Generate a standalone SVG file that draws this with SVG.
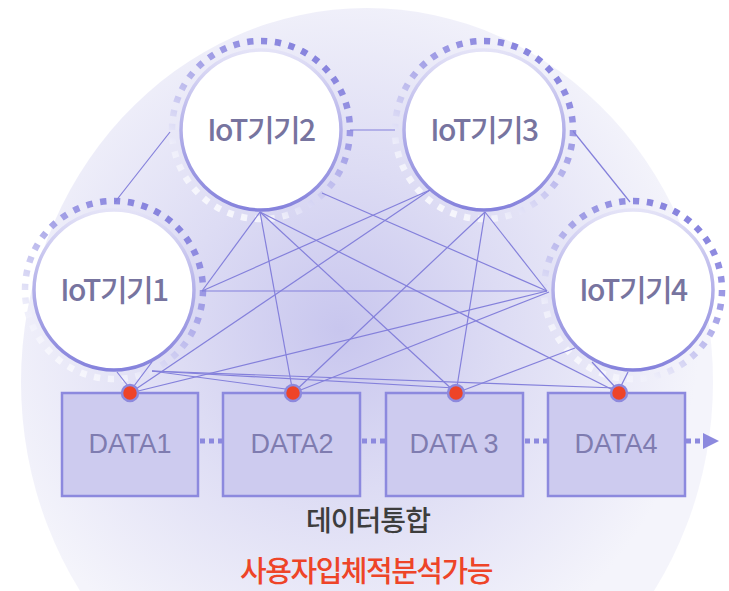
<svg xmlns="http://www.w3.org/2000/svg" width="729" height="591" viewBox="0 0 729 591">
<defs>
<radialGradient id="bg" cx="340" cy="330" r="360" gradientUnits="userSpaceOnUse">
<stop offset="0" stop-color="#c8c6ee"/>
<stop offset="0.45" stop-color="#dddcf4"/>
<stop offset="1" stop-color="#f4f4fb"/>
</radialGradient>
<linearGradient id="ring" x1="0.85" y1="0" x2="0.2" y2="1">
<stop offset="0" stop-color="#7f7bdb"/>
<stop offset="0.4" stop-color="#a6a3e7"/>
<stop offset="0.8" stop-color="#eeeefa"/>
<stop offset="1" stop-color="#fbfbfe"/>
</linearGradient>
<linearGradient id="edge" x1="0" y1="0" x2="0" y2="1">
<stop offset="0" stop-color="#e4e3f7"/>
<stop offset="0.5" stop-color="#b3b0e9"/>
<stop offset="1" stop-color="#8582dc"/>
</linearGradient>
</defs>
<style>
.ring{fill:none;stroke:url(#ring);stroke-width:6.5;stroke-dasharray:4.5 5.5}
.core{fill:#fff;stroke:url(#edge);stroke-width:3.5}
.lbl{font-family:"Noto Sans CJK KR","Noto Sans",sans-serif;font-size:30px;font-weight:500;fill:#77749f;text-anchor:middle;letter-spacing:-1.5px}
.box{fill:#cdcbef;stroke:#8c89de;stroke-width:2.5}
.dtxt{font-family:"Liberation Sans",Arial,sans-serif;font-size:27px;fill:#7f7cb0;text-anchor:middle}
.dot{fill:#ee4428;stroke:#8d89dd;stroke-width:2.5}
.ln{stroke:#8480db;stroke-width:1.2;fill:none}
.flow{stroke:#8c89de;stroke-width:5;stroke-dasharray:5 4;fill:none}
</style>
<rect width="729" height="591" fill="#ffffff"/>
<ellipse cx="367" cy="382" rx="346" ry="374" fill="url(#bg)"/>

<g id="iot1">
<circle class="ring" cx="114" cy="290" r="89" pathLength="400"/>
<circle class="core" cx="114" cy="290" r="80"/>
<text class="lbl" x="114" y="301">IoT기기1</text>
</g>
<g id="iot2">
<circle class="ring" cx="261" cy="130" r="89" pathLength="400"/>
<circle class="core" cx="261" cy="130" r="80"/>
<text class="lbl" x="261" y="141">IoT기기2</text>
</g>
<g id="iot3">
<circle class="ring" cx="484" cy="130" r="89" pathLength="400"/>
<circle class="core" cx="484" cy="130" r="80"/>
<text class="lbl" x="484" y="141">IoT기기3</text>
</g>
<g id="iot4">
<circle class="ring" cx="633" cy="290" r="89" pathLength="400"/>
<circle class="core" cx="633" cy="290" r="80"/>
<text class="lbl" x="633" y="301">IoT기기4</text>
</g>

<g id="connectors">
<line class="ln" x1="115" y1="202" x2="170" y2="132"/>
<line class="ln" x1="350" y1="130" x2="395" y2="130"/>
<line class="ln" x1="573" y1="131" x2="630" y2="202"/>
<line class="ln" x1="202" y1="291" x2="547" y2="291"/>
<line class="ln" x1="260" y1="212" x2="202" y2="291"/>
<line class="ln" x1="260" y1="212" x2="293" y2="393"/>
<line class="ln" x1="260" y1="212" x2="456" y2="393"/>
<line class="ln" x1="260" y1="212" x2="619" y2="393"/>
<line class="ln" x1="322" y1="193" x2="547" y2="291"/>
<line class="ln" x1="430" y1="190" x2="202" y2="291"/>
<line class="ln" x1="430" y1="190" x2="130" y2="393"/>
<line class="ln" x1="485" y1="212" x2="293" y2="393"/>
<line class="ln" x1="485" y1="212" x2="456" y2="393"/>
<line class="ln" x1="485" y1="212" x2="547" y2="291"/>
<line class="ln" x1="130" y1="393" x2="547" y2="291"/>
<line class="ln" x1="293" y1="393" x2="549" y2="292"/>
<line class="ln" x1="456" y1="393" x2="575" y2="348"/>
<line class="ln" x1="592" y1="362" x2="616" y2="388"/>
<line class="ln" x1="628" y1="372" x2="621" y2="386"/>
<line class="ln" x1="117" y1="372" x2="128" y2="386"/>
<line class="ln" x1="152" y1="362" x2="134" y2="386"/>
<line class="ln" x1="152" y1="371" x2="293" y2="390"/>
<line class="ln" x1="152" y1="371" x2="455" y2="388"/>
<line class="ln" x1="152" y1="371" x2="616" y2="388"/>
<line class="flow" x1="200" y1="441" x2="222" y2="441"/>
<line class="flow" x1="362" y1="441" x2="385" y2="441"/>
<line class="flow" x1="525" y1="441" x2="547" y2="441"/>
<line class="flow" x1="686" y1="441" x2="700" y2="441"/>
<polygon points="703,433 719,441 703,449" fill="#8c89de"/>
</g>

<g id="data1">
<rect class="box" x="62" y="393" width="136" height="103"/>
<text class="dtxt" x="130" y="453">DATA1</text>
<circle class="dot" cx="130" cy="393" r="8"/>
</g>
<g id="data2">
<rect class="box" x="223" y="393" width="137" height="103"/>
<text class="dtxt" x="292" y="453">DATA2</text>
<circle class="dot" cx="293" cy="393" r="8"/>
</g>
<g id="data3">
<rect class="box" x="386" y="393" width="137" height="103"/>
<text class="dtxt" x="454" y="453">DATA 3</text>
<circle class="dot" cx="456" cy="393" r="8"/>
</g>
<g id="data4">
<rect class="box" x="548" y="393" width="137" height="103"/>
<text class="dtxt" x="616" y="453">DATA4</text>
<circle class="dot" cx="619" cy="393" r="8"/>
</g>

<g id="caption">
<text x="368" y="531" font-family="Noto Sans CJK KR,sans-serif" font-size="28" font-weight="500" fill="#3d3d3d" text-anchor="middle" letter-spacing="-1">데이터통합</text>
<text x="366" y="582" font-family="Noto Sans CJK KR,sans-serif" font-size="29" font-weight="500" fill="#ee4428" text-anchor="middle" letter-spacing="-1.5">사용자입체적분석가능</text>
</g>
</svg>
